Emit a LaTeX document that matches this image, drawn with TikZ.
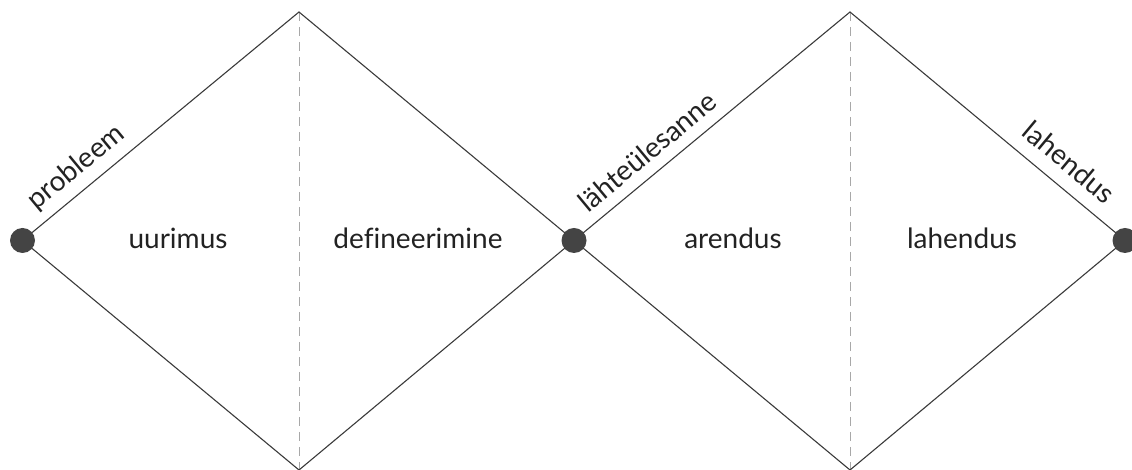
\documentclass[tikz,border=0pt]{standalone}
\usepackage{fontspec}
\setmainfont[Ligatures=NoCommon]{Lato}
\definecolor{edge}{HTML}{3A3A3A}
\definecolor{guide}{HTML}{A8A8A8}
\definecolor{dotc}{HTML}{444444}
\definecolor{txt}{HTML}{222222}
\tikzset{
  edgeline/.style={draw=edge, line width=1.1pt},
  guideline/.style={draw=guide, line width=0.9pt, dash pattern=on 9pt off 6pt},
  milestone/.style={circle, fill=dotc, minimum size=25pt, inner sep=0pt},
  phase/.style={font=\fontsize{28}{30}\selectfont, text=txt, anchor=base, inner sep=0pt},
  edgelabel/.style={font=\fontsize{28}{30}\selectfont, text=txt, anchor=base, inner sep=0pt}
}
\begin{document}
\begin{tikzpicture}[x=1pt,y=1pt]
\useasboundingbox (0,0) rectangle (1132,470);
% vertices
\coordinate (L1) at (22.5,229.5);
\coordinate (T1) at (299,458);
\coordinate (B1) at (299,0);
\coordinate (M)  at (574,229.5);
\coordinate (T2) at (850,458);
\coordinate (B2) at (850,0);
\coordinate (R2) at (1125,229.5);
% guides
\draw[guideline] (T1) -- (B1);
\draw[guideline] (T2) -- (B2);
% diamonds
\draw[edgeline] (L1) -- (T1) -- (M) -- (B1) -- cycle;
\draw[edgeline] (M) -- (T2) -- (R2) -- (B2) -- cycle;
% dots
\node[milestone] (d1) at (L1) {};
\node[milestone] (d2) at (M) {};
\node[milestone] (d3) at (R2) {};
% phase labels
\node[phase] (uurimus) at (178,221) {uurimus};
\node[phase] (defin) at (418,221) {defineerimine};
\node[phase] (arendus) at (733,221) {arendus};
\node[phase] (lahendus) at (962,221) {lahendus};
% edge labels
\node[edgelabel, rotate=39.6] (probleem) at (81.6,296.4) {probleem};
\node[edgelabel, rotate=39.7] (lahte) at (653.8,310.9) {lähteülesanne};
\node[edgelabel, rotate=-39.8] (lahend2) at (1063,300) {lahendus};
\end{tikzpicture}
\end{document}
